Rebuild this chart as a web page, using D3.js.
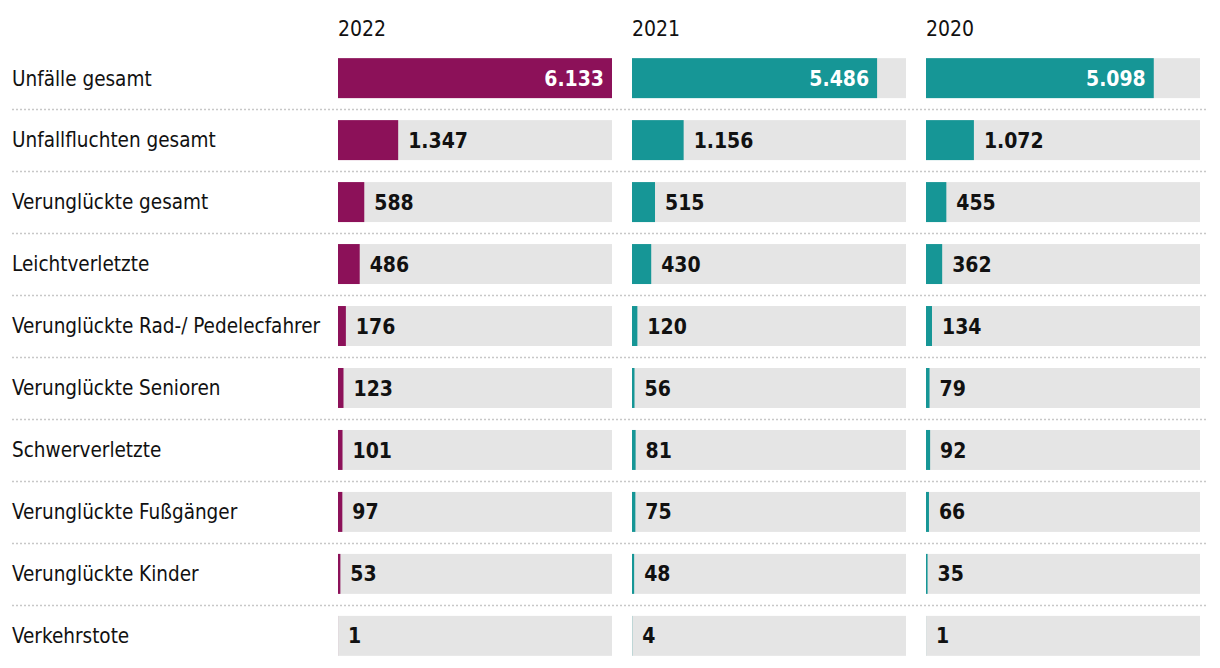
<!DOCTYPE html>
<html><head><meta charset="utf-8">
<script src="https://cdn.jsdelivr.net/npm/d3@7"></script>
<style>
body{margin:0;background:#fff;}
text{font-family:"DejaVu Sans",sans-serif;font-stretch:condensed;}
</style></head>
<body><svg id="chart" width="1220" height="668"></svg>
<script>
const categories = ["Unfälle gesamt","Unfallfluchten gesamt","Verunglückte gesamt","Leichtverletzte","Verunglückte Rad-/ Pedelecfahrer","Verunglückte Senioren","Schwerverletzte","Verunglückte Fußgänger","Verunglückte Kinder","Verkehrstote"];
const years = ["2022","2021","2020"];
const values2022 = [6133,1347,588,486,176,123,101,97,53,1];
const values2021 = [5486,1156,515,430,120,56,81,75,48,4];
const values2020 = [5098,1072,455,362,134,79,92,66,35,1];
const seriesValues = [values2022, values2021, values2020];
const colors = ["#8c1159","#169696","#169696"];

const svg = d3.select("#chart");
const fmt = d3.formatLocale({decimal:",",thousands:".",grouping:[3],currency:["","€"]}).format(",d");

const y = d3.scaleBand().domain(categories).range([47,667]).paddingInner(0.355).paddingOuter(0.18);
const colX = d3.scaleBand().domain(years).range([338,1200+20]).paddingInner(0);
const colW = 274;
const maxV = d3.max(seriesValues.flat());
const x = d3.scaleLinear().domain([0,maxV]).range([0,colW]);

const rowStep = y.step();
categories.slice(0,-1).forEach(c=>{
  const yy = Math.round(y(c)+y.bandwidth()+(rowStep-y.bandwidth())/2)+0.5;
  svg.append("line").attr("x1",12).attr("x2",1208).attr("y1",yy).attr("y2",yy)
    .attr("stroke","#c8c8c8").attr("stroke-width",1.3).attr("stroke-dasharray","2,2");
});
svg.selectAll("text.cat").data(categories).join("text").attr("class","cat")
  .attr("x",12).attr("y",c=>y(c)+y.bandwidth()/2).attr("dy","0.36em")
  .attr("font-size",20.5).attr("fill","#111").text(c=>c);

years.forEach((yr,i)=>{
  const x0 = colX(yr);
  svg.append("text").attr("x",x0).attr("y",28).attr("dy","0.36em").attr("font-size",21).attr("fill","#111").text(yr);
  const g = svg.append("g").attr("transform",`translate(${x0},0)`);
  const data = categories.map((c,j)=>({c,v:seriesValues[i][j]}));
  g.selectAll("rect.bg").data(data).join("rect").attr("class","bg")
    .attr("x",0).attr("y",d=>y(d.c)).attr("width",colW).attr("height",y.bandwidth()).attr("fill","#e5e5e5");
  g.selectAll("rect.bar").data(data).join("rect").attr("class","bar")
    .attr("x",0).attr("y",d=>y(d.c)).attr("width",d=>x(d.v)).attr("height",y.bandwidth()).attr("fill",colors[i]);
  g.selectAll("text.val").data(data).join("text").attr("class","val")
    .attr("x",d=>x(d.v)>150 ? x(d.v)-8 : x(d.v)+10)
    .attr("text-anchor",d=>x(d.v)>150?"end":"start")
    .attr("y",d=>y(d.c)+y.bandwidth()/2).attr("dy","0.36em")
    .attr("font-size",21).attr("font-weight","bold")
    .attr("fill",d=>x(d.v)>150?"#fff":"#111").text(d=>fmt(d.v));
});
</script></body></html>
